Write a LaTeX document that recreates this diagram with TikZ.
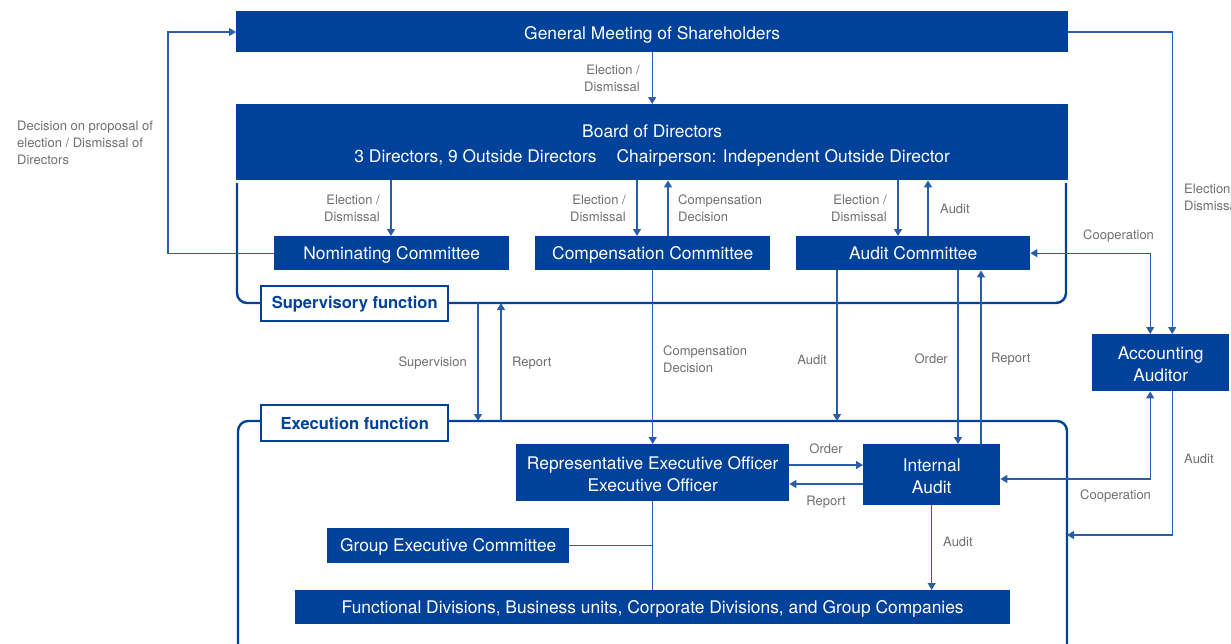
\documentclass[tikz,border=0pt]{standalone}
\usepackage{fontspec}
\setmainfont{TeX Gyre Heros}
\usetikzlibrary{arrows.meta}
\definecolor{corpblue}{HTML}{00419A}
\definecolor{linkblue}{HTML}{2A5CAA}
\definecolor{labelgray}{HTML}{6E6E6E}
% strut that sets the height of the first line in two-line boxes
\newcommand{\firstline}[1][16.5pt]{\rule{0pt}{#1}}
\begin{document}
\begin{tikzpicture}[x=1pt,y=-1pt,
  box/.style={fill=corpblue, text=white, inner sep=0pt, anchor=north west,
    align=center, font=\fontsize{17.4}{22}\selectfont},
  onebox/.style={box, text height=14pt, text depth=1.5pt},
  tagbox/.style={fill=white, draw=corpblue, line width=2.4pt, text=corpblue,
    inner sep=0pt, anchor=north west, font=\fontsize{16.5}{20}\selectfont\bfseries},
  frame/.style={draw=corpblue, line width=2.4pt, rounded corners=10pt},
  link/.style={draw=linkblue, line width=1.2pt},
  arr/.style={link, -{Triangle[width=8pt,length=7pt]}},
  arrb/.style={link, {Triangle[width=8pt,length=7pt]}-{Triangle[width=8pt,length=7pt]}},
  lbl/.style={text=labelgray, inner sep=0pt, font=\fontsize{13}{17}\selectfont},
]
\useasboundingbox (0,0) rectangle (1231,643);

% governance frames
\draw[frame] (237,183) -- (237,303) -- (1066,303) -- (1066,183);
\draw[frame] (238,650) -- (238,421) -- (1067,421) -- (1067,650);

% boxes
\node[box, text height=17pt, text depth=1.5pt, minimum width=832pt, minimum height=41pt] (gm) at (236,11)
  {General Meeting of Shareholders};
\node[box, minimum width=832pt, minimum height=76pt, font=\fontsize{17.4}{25}\selectfont] (board) at (236,104)
  {\firstline[19pt]Board of Directors\\3 Directors, 9 Outside Directors\hspace{20pt}Chairperson: Independent Outside Director};
\node[onebox, minimum width=235pt, minimum height=34pt] (nom) at (274,236) {Nominating Committee};
\node[onebox, minimum width=235pt, minimum height=34pt] (comp) at (535,236) {Compensation Committee};
\node[onebox, minimum width=234pt, minimum height=34pt] (audc) at (796,236) {Audit Committee};
\node[box, minimum width=137pt, minimum height=57pt] (aa) at (1092,334) {\firstline Accounting\\Auditor};
\node[box, minimum width=273pt, minimum height=57pt] (rep) at (516,444)
  {\firstline Representative Executive Officer\\Executive Officer};
\node[box, minimum width=137pt, minimum height=61pt] (ia) at (863,444) {\firstline Internal\\Audit};
\node[onebox, minimum width=242pt, minimum height=35pt] (gec) at (327,528) {Group Executive Committee};
\node[onebox, minimum width=715pt, minimum height=34pt] (fd) at (295,590)
  {Functional Divisions, Business units, Corporate Divisions, and Group Companies};

\node[tagbox, minimum width=187pt, minimum height=35pt] (sup) at (260,285) {Supervisory function};
\node[tagbox, minimum width=187pt, minimum height=36pt] (exe) at (260,404) {Execution function};

% connector columns and rows
\coordinate (xnom) at (391,0);
\coordinate (xcompd) at (637,0);
\coordinate (xcompu) at (668,0);
\coordinate (xaudd) at (898,0);
\coordinate (xaudu) at (928,0);
\coordinate (xaudx) at (837,0);
\coordinate (xord) at (958,0);
\coordinate (xrep) at (981,0);
\coordinate (yorder) at (0,465);
\coordinate (yreport) at (0,484);
\coordinate (ycoop) at (0,479);
\coordinate (ygm) at (0,32);
\coordinate (svTop) at (478,303);
\coordinate (svBot) at (478,421);
\coordinate (rpTop) at (501,303);
\coordinate (rpBot) at (501,421);
\coordinate (exTop) at (837,421);
\coordinate (exRight) at (1067,535);

% connectors
\draw[arr] (gm.south) -- (board.north);
\draw[arr] (nom.west) -- ++(-106,0) |- (gm.west |- ygm);
\draw[arr] (board.south -| xnom) -- (nom.north -| xnom);
\draw[arr] (board.south -| xcompd) -- (comp.north -| xcompd);
\draw[arr] (comp.north -| xcompu) -- (board.south -| xcompu);
\draw[arr] (board.south -| xaudd) -- (audc.north -| xaudd);
\draw[arr] (audc.north -| xaudu) -- (board.south -| xaudu);
\draw[arr] (gm.east |- ygm) -| ([xshift=11.5pt]aa.north);
\draw[arrb] (audc.east) -| ([xshift=-10.5pt]aa.north);
\draw[arr] (svTop) -- (svBot);
\draw[arr] (rpBot) -- (rpTop);
\draw[arr] (comp.south) -- (rep.north);
\draw[arr] (audc.south -| xaudx) -- (exTop);
\draw[arr] (audc.south -| xord) -- (ia.north -| xord);
\draw[arr] (ia.north -| xrep) -- (audc.south -| xrep);
\draw[arr] (rep.east |- yorder) -- (ia.west |- yorder);
\draw[arr] (ia.west |- yreport) -- (rep.east |- yreport);
\draw[arr] (ia.south) -- (ia.south |- fd.north);
\draw[link] (rep.south) -- (rep.south |- fd.north);
\draw[link] (gec.east) -- (rep.south |- gec.east);
\draw[arrb] (ia.east |- ycoop) -| ([xshift=-10.5pt]aa.south);
\draw[arr] ([xshift=11.5pt]aa.south) |- (exRight);

% connector labels
\node[lbl, anchor=east, align=right] (l1) at (640,78) {Election /\\Dismissal};
\node[lbl, anchor=west, align=left] (l2) at (17,143) {Decision on proposal of\\election / Dismissal of\\Directors};
\node[lbl, anchor=east, align=right] (l3) at (380,208) {Election /\\Dismissal};
\node[lbl, anchor=east, align=right] (l4) at (626,208) {Election /\\Dismissal};
\node[lbl, anchor=west, align=left] (l5) at (678,208) {Compensation\\Decision};
\node[lbl, anchor=east, align=right] (l6) at (887,208) {Election /\\Dismissal};
\node[lbl, anchor=west] (l7) at (940,209) {Audit};
\node[lbl, anchor=west, align=left] (l8) at (1184,197) {Election /\\Dismissal};
\node[lbl, anchor=west] (l9) at (1083,236) {Cooperation};
\node[lbl, anchor=east] (l10) at (467,363) {Supervision};
\node[lbl, anchor=west] (l11) at (512,363) {Report};
\node[lbl, anchor=west, align=left] (l12) at (663,359) {Compensation\\Decision};
\node[lbl, anchor=east] (l13) at (827,360) {Audit};
\node[lbl, anchor=east] (l14) at (948,359) {Order};
\node[lbl, anchor=west] (l15) at (991,359) {Report};
\node[lbl] (l16) at (826,449) {Order};
\node[lbl] (l17) at (826,502) {Report};
\node[lbl, anchor=west] (l18) at (943,542) {Audit};
\node[lbl, anchor=west] (l19) at (1080,496) {Cooperation};
\node[lbl, anchor=west] (l20) at (1184,459) {Audit};
\end{tikzpicture}
\end{document}
